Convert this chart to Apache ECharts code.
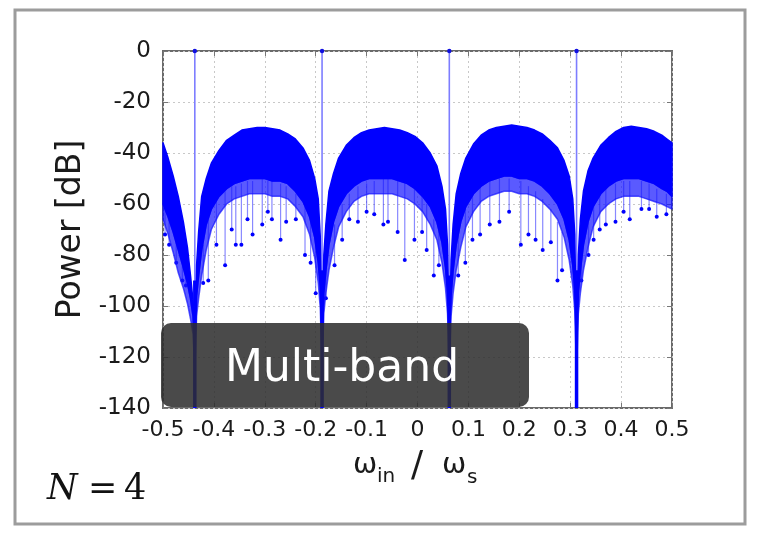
<!DOCTYPE html>
<html>
<head>
<meta charset="utf-8">
<script src="https://cdn.jsdelivr.net/npm/echarts@6/dist/echarts.min.js"></script>
<style>
  html, body { margin: 0; padding: 0; background: #fff; }
  #chart { width: 761px; height: 535px; }
</style>
</head>
<body>
<div id="chart"></div>
<script>
// sample positions along the frequency axis (denser near the notches)
const xs = [
  -0.5, -0.49, -0.48, -0.47, -0.46, -0.452, -0.446, -0.441, -0.4375,
  -0.434, -0.43, -0.424, -0.415, -0.405, -0.39, -0.375, -0.36, -0.345, -0.33, -0.315,
  -0.3, -0.285, -0.27, -0.255, -0.24, -0.225, -0.212, -0.202, -0.195, -0.191, -0.1875,
  -0.184, -0.18, -0.174, -0.165, -0.155, -0.14, -0.125, -0.11, -0.095, -0.08, -0.065,
  -0.05, -0.035, -0.02, -0.005, 0.01, 0.025, 0.038, 0.048, 0.055, 0.059, 0.0625,
  0.066, 0.07, 0.076, 0.085, 0.095, 0.11, 0.125, 0.14, 0.155, 0.17, 0.185,
  0.2, 0.215, 0.23, 0.245, 0.26, 0.275, 0.288, 0.298, 0.305, 0.309, 0.3125,
  0.316, 0.32, 0.326, 0.335, 0.345, 0.36, 0.375, 0.39, 0.405, 0.42, 0.435,
  0.45, 0.465, 0.48, 0.49, 0.5
]

// top of the dense blue cloud (dB)
const upper = [
  -36, -42, -49, -57, -67, -77, -88, -98, -115,
  -84, -71, -57, -50, -44, -39, -35, -33, -31, -30.5, -30,
  -30, -30.5, -31, -32.5, -34.5, -38, -43, -50, -58, -73, -115,
  -80, -68, -55, -48, -42, -37, -34, -32, -31, -30.5, -30,
  -30.5, -31, -32, -33.5, -36, -40, -45, -53, -62, -76, -115,
  -82, -68, -56, -48, -42, -36.5, -33, -31, -30, -29.5, -29,
  -29.5, -30, -31, -32.5, -35, -38, -43, -49, -58, -72, -118,
  -80, -66, -55, -47, -42, -37, -34, -31.5, -30, -29.5, -30,
  -30.5, -31.5, -33, -34.5, -36
]

// bottom of the solid part of the cloud
const lower = [
  -60, -65, -71, -78, -85, -91, -97, -104, -118,
  -96, -88, -78, -68, -62, -57, -54, -52, -51, -50, -50,
  -50, -51, -51, -52, -55, -59, -65, -73, -83, -93, -118,
  -95, -86, -76, -67, -61, -56, -53, -51, -50, -50, -50,
  -50, -51, -52, -54, -57, -61, -67, -75, -85, -95, -118,
  -96, -86, -76, -67, -61, -56, -53, -51, -50, -49, -49,
  -50, -50, -51, -53, -56, -60, -66, -74, -84, -94, -120,
  -95, -86, -76, -67, -61, -56, -53, -51, -50, -50, -50,
  -51, -52, -54, -55, -57
]

// bottom of the looser, speckled fringe
const fringe = [
  -66, -72, -79, -87, -93, -99, -105, -111, -125,
  -104, -97, -88, -78, -70, -64, -60, -58, -57, -56, -56,
  -56, -57, -57, -58, -61, -65, -72, -81, -91, -101, -125,
  -103, -95, -86, -77, -69, -63, -59, -57, -56, -56, -56,
  -56, -57, -58, -60, -63, -68, -74, -83, -93, -103, -125,
  -104, -95, -86, -77, -69, -63, -59, -57, -56, -55, -55,
  -56, -56, -57, -59, -62, -66, -73, -82, -92, -102, -126,
  -103, -95, -86, -77, -69, -63, -60, -58, -57, -57, -57,
  -58, -59, -60, -61, -62
]

// isolated low points hanging below the cloud: [x, from, to]
const stems = [
  [-0.496, -62, -72], [-0.488, -66, -76], [-0.474, -75, -83], [-0.462, -84, -90], [-0.455, -88, -92],
  [-0.421, -76, -91], [-0.411, -66, -90], [-0.395, -58, -76], [-0.378, -55, -84], [-0.365, -53, -70],
  [-0.357, -53, -76], [-0.346, -52, -76], [-0.334, -51, -66], [-0.324, -51, -72], [-0.305, -50, -68],
  [-0.294, -51, -63], [-0.286, -51, -66], [-0.269, -52, -74], [-0.258, -53, -67], [-0.239, -56, -66],
  [-0.221, -61, -80], [-0.21, -66, -83], [-0.2, -76, -95],
  [-0.18, -84, -97], [-0.163, -68, -84], [-0.148, -60, -74], [-0.134, -56, -66], [-0.117, -53, -67],
  [-0.1, -52, -63], [-0.085, -51, -64], [-0.067, -50, -68], [-0.058, -50, -67], [-0.039, -51, -71],
  [-0.025, -52, -82], [-0.006, -54, -74], [0.009, -57, -71], [0.018, -60, -78], [0.032, -66, -88],
  [0.042, -70, -84],
  [0.08, -68, -88], [0.094, -60, -83], [0.108, -56, -74], [0.123, -53, -72], [0.142, -51, -68],
  [0.161, -50, -67], [0.18, -50, -63], [0.203, -51, -76], [0.218, -53, -72], [0.232, -55, -74],
  [0.246, -58, -78], [0.262, -62, -75], [0.275, -67, -90], [0.284, -71, -86],
  [0.322, -82, -90], [0.336, -66, -80], [0.346, -60, -74], [0.358, -57, -70], [0.37, -54, -68],
  [0.389, -52, -67], [0.405, -51, -63], [0.417, -51, -66], [0.44, -51, -62], [0.455, -52, -62],
  [0.47, -54, -65], [0.489, -56, -64]
]

// tone peaks at 0 dB, and the notch dips under them
const spikeX = [-0.4375, -0.1875, 0.0625, 0.3125]
const spikeTop = [0, 0, 0, 0]
const notchTop = [-90, -86, -88, -86]
const notchBottom = [-140, -140, -140, -140]

const xTicks = { min: -0.5, max: 0.5, step: 0.1 }
const yTicks = { min: -140, max: 0, step: 20 }

const chart = echarts.init(document.getElementById('chart'))

const bandRender = (hi, lo, color) => (params, api) => {
  if (params.dataIndex !== 0) return null
  const pts = []
  for (let i = 0; i < xs.length; i++) pts.push(api.coord([xs[i], hi[i]]))
  for (let i = xs.length - 1; i >= 0; i--) pts.push(api.coord([xs[i], lo[i]]))
  return {
    type: 'polygon',
    shape: { points: pts },
    style: { fill: color, stroke: color, lineWidth: 1.5, lineJoin: 'round' }
  }
}

const fmtX = v => Math.abs(v) < 1e-9 ? '0' : (+v).toFixed(1)
const tickColor = '#1a1a1a'
const sideTick = { inside: true, length: 5, lineStyle: { color: '#777' } }
const dotted = { show: true, lineStyle: { color: '#c8c8c8', type: [2, 3], width: 1 } }

const option = {
  animation: false,
  backgroundColor: '#fff',
  grid: {
    left: 163, right: 89, top: 51, bottom: 127,
    show: true, borderColor: '#6a6a6a', borderWidth: 2, backgroundColor: '#fff'
  },
  xAxis: [
    {
      type: 'value', min: xTicks.min, max: xTicks.max, interval: xTicks.step,
      axisLine: { show: false, onZero: false },
      axisTick: sideTick,
      axisLabel: { fontFamily: 'DejaVu Sans', fontSize: 22, color: tickColor, margin: 11,
        formatter: fmtX, showMinLabel: true, showMaxLabel: true },
      splitLine: dotted
    },
    {
      type: 'value', position: 'top', min: xTicks.min, max: xTicks.max, interval: xTicks.step,
      axisLine: { show: false, onZero: false },
      axisTick: sideTick,
      axisLabel: { show: false }, splitLine: { show: false }
    }
  ],
  yAxis: [
    {
      type: 'value', min: yTicks.min, max: yTicks.max, interval: yTicks.step,
      name: 'Power [dB]', nameLocation: 'middle', nameGap: 71,
      nameTextStyle: { fontFamily: 'DejaVu Sans', fontSize: 33, color: tickColor },
      axisLine: { show: false, onZero: false },
      axisTick: sideTick,
      axisLabel: { fontFamily: 'DejaVu Sans', fontSize: 23, color: tickColor, margin: 12 },
      splitLine: dotted
    },
    {
      type: 'value', position: 'right', min: yTicks.min, max: yTicks.max, interval: yTicks.step,
      axisLine: { show: false, onZero: false },
      axisTick: sideTick,
      axisLabel: { show: false }, splitLine: { show: false }
    }
  ],
  series: [
    {
      type: 'custom', name: 'spikes', z: 2,
      data: spikeX.map((x, i) => [x, spikeTop[i], notchBottom[i]]),
      renderItem: (params, api) => {
        const a = api.coord([api.value(0), api.value(1)])
        const b = api.coord([api.value(0), api.value(2)])
        return {
          type: 'group',
          children: [
            { type: 'line', shape: { x1: a[0], y1: a[1], x2: b[0], y2: b[1] },
              style: { stroke: '#7d7dff', lineWidth: 1.6 } },
            { type: 'circle', shape: { cx: a[0], cy: a[1], r: 2.2 }, style: { fill: '#1010e0' } }
          ]
        }
      }
    },
    {
      type: 'custom', name: 'stems', z: 2,
      data: stems,
      renderItem: (params, api) => {
        const a = api.coord([api.value(0), api.value(1)])
        const b = api.coord([api.value(0), api.value(2)])
        return {
          type: 'group',
          children: [
            { type: 'line', shape: { x1: a[0], y1: a[1], x2: b[0], y2: b[1] },
              style: { stroke: 'rgba(40,40,255,0.55)', lineWidth: 1.2 } },
            { type: 'circle', shape: { cx: b[0], cy: b[1], r: 2 }, style: { fill: '#0000ff' } }
          ]
        }
      }
    },
    {
      type: 'custom', name: 'fringe', z: 2,
      data: xs.map((x, i) => [x, lower[i], fringe[i]]),
      renderItem: bandRender(lower, fringe, 'rgba(20,20,255,0.7)')
    },
    {
      type: 'custom', name: 'band', z: 2,
      data: xs.map((x, i) => [x, upper[i], lower[i]]),
      renderItem: bandRender(upper, lower, '#0000ff')
    },
    {
      type: 'custom', name: 'notches', z: 2,
      data: spikeX.map((x, i) => [x, notchTop[i], notchBottom[i]]),
      renderItem: (params, api) => {
        const a = api.coord([api.value(0), api.value(1)])
        const b = api.coord([api.value(0), api.value(2)])
        return {
          type: 'line', shape: { x1: a[0], y1: a[1], x2: b[0], y2: b[1] },
          style: { stroke: '#0000ff', lineWidth: 3.5 }
        }
      }
    }
  ],
  graphic: [
    { type: 'rect', z: 0, silent: true, shape: { x: 15, y: 10, width: 730, height: 514 },
      style: { fill: 'none', stroke: '#9c9c9c', lineWidth: 3 } },
    { type: 'rect', z: 100, shape: { x: 161, y: 323, width: 368, height: 84, r: 10 },
      style: { fill: 'rgba(44,44,44,0.86)' } },
    { type: 'text', z: 101, x: 342, y: 370,
      style: { text: 'Multi-band', fill: '#fff', font: '44px "DejaVu Sans"', align: 'center', verticalAlign: 'middle' } },
    // x axis name: ω_in / ω_s
    { type: 'text', x: 353, y: 465, style: { text: 'ω', fill: tickColor, font: '29px "DejaVu Sans"', verticalAlign: 'middle' } },
    { type: 'text', x: 377, y: 477, style: { text: 'in', fill: tickColor, font: '20px "DejaVu Sans"', verticalAlign: 'middle' } },
    { type: 'text', x: 411, y: 467, style: { text: '/', fill: tickColor, font: '36px "DejaVu Sans"', verticalAlign: 'middle' } },
    { type: 'text', x: 442, y: 465, style: { text: 'ω', fill: tickColor, font: '29px "DejaVu Sans"', verticalAlign: 'middle' } },
    { type: 'text', x: 467, y: 478, style: { text: 's', fill: tickColor, font: '20px "DejaVu Sans"', verticalAlign: 'middle' } },
    // N = 4
    { type: 'text', x: 47, y: 490, style: { text: 'N', fill: '#111', font: 'italic 35px "DejaVu Serif"', verticalAlign: 'middle' } },
    { type: 'text', x: 88, y: 490, style: { text: '=', fill: '#111', font: '35px "DejaVu Serif"', verticalAlign: 'middle' } },
    { type: 'text', x: 124, y: 490, style: { text: '4', fill: '#111', font: '35px "DejaVu Serif"', verticalAlign: 'middle' } }
  ]
}

chart.setOption(option)
</script>
</body>
</html>
